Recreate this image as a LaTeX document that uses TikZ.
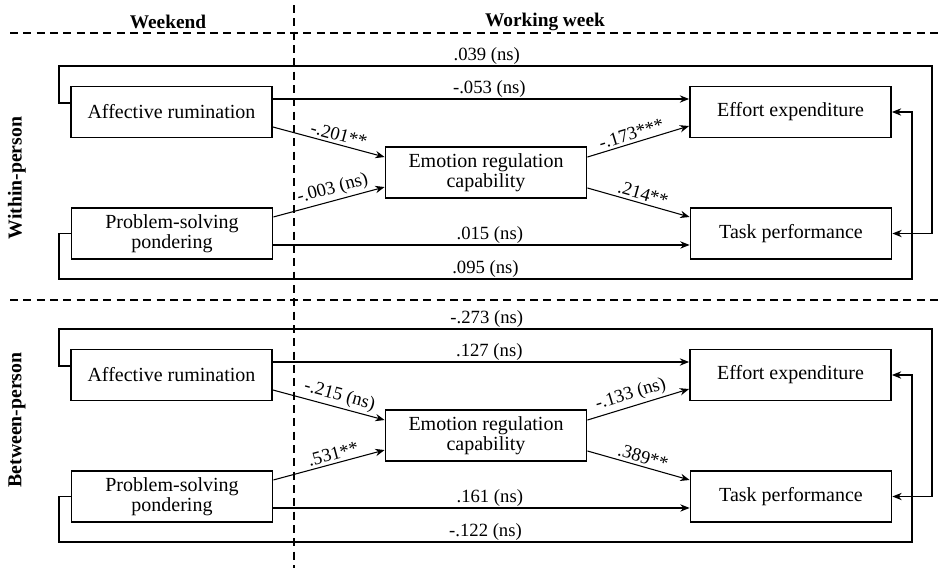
\documentclass[tikz,border=0pt]{standalone}
\usepackage{fontspec}
\setmainfont{Liberation Serif}
\usetikzlibrary{arrows.meta, calc}

\begin{document}
\begin{tikzpicture}[x=0.75pt, y=-0.75pt, >={Stealth[length=7pt,width=5.5pt]},
  box/.style={draw, line width=1.1pt, minimum width=151pt, minimum height=38pt,
    align=center, inner sep=2pt, font=\fontsize{15}{15}\selectfont},
  lbl/.style={inner sep=1pt, font=\fontsize{14}{14}\selectfont},
  slbl/.style={lbl, above, sloped, inner sep=2pt},
  head/.style={font=\bfseries\fontsize{14.5}{14.5}\selectfont},
  side/.style={rotate=90, font=\bfseries\fontsize{14.8}{14.8}\selectfont},
  link/.style={line width=0.8pt},
  sep/.style={line width=0.8pt, dash pattern=on 6pt off 4pt}]
  \useasboundingbox (0,0) rectangle (950,568);

  % headers and separators
  \node[head] (weekend) at (168,22) {Weekend};
  \node[head] (workweek) at (545,22) {Working week};
  \draw[sep] (10,33) -- (942,33);
  \draw[sep] (10,300) -- (942,300);
  \draw[sep] (294,5) -- (294,568);

  % within-person
  \node[side] (within) at (17,178) {Within-person};
  \node[box] (war) at (171.5,112) {Affective rumination};
  \node[box] (wpsp) at (172,233.5) {Problem-solving\\pondering};
  \node[box] (werc) at (486,172.5) {Emotion regulation\\capability};
  \node[box] (wee) at (790.5,112) {Effort expenditure};
  \node[box] (wtp) at (791,233.5) {Task performance};
  \coordinate (wtl) at (59,66);
  \coordinate (wtr) at (932,66);
  \coordinate (wbl) at (59,279);
  \coordinate (wbr) at (912,279);
  \draw[link,->] ([yshift=6.75pt]war.west) -| (wtl) -- node[lbl,above,pos=0.49] {.039 (ns)} (wtr) |- (wtp.east);
  \draw[link,->] (wpsp.west) -| (wbl) -- node[lbl,above,pos=0.5] {.095 (ns)} (wbr) |- (wee.east);
  \draw[link,->] ([yshift=9.75pt]war.east) -- node[lbl,above,pos=0.52] {-.053 (ns)} ([yshift=9.75pt]wee.west);
  \draw[link,->] ([yshift=-11.25pt]war.east) -- node[slbl,pos=0.57] {-.201**} ([yshift=11.6pt]werc.west);
  \draw[link,->] ([yshift=12.4pt]wpsp.east) -- node[slbl,pos=0.56] {-.003 (ns)} ([yshift=-10.9pt]werc.west);
  \draw[link,->] ([yshift=11.6pt]werc.east) -- node[slbl,pos=0.46] {-.173***} ([yshift=-10.5pt]wee.west);
  \draw[link,->] ([yshift=-11.6pt]werc.east) -- node[slbl,pos=0.52] {.214**} ([yshift=12.4pt]wtp.west);
  \draw[link,->] ([yshift=-8.6pt]wpsp.east) -- node[lbl,above,pos=0.52] {.015 (ns)} ([yshift=-8.6pt]wtp.west);

  % between-person
  \node[side] (between) at (17,420) {Between-person};
  \begin{scope}[shift={(0,263)}]
  \node[box] (bar) at (171.5,112) {Affective rumination};
  \node[box] (bpsp) at (172,233.5) {Problem-solving\\pondering};
  \node[box] (berc) at (486,172.5) {Emotion regulation\\capability};
  \node[box] (bee) at (790.5,112) {Effort expenditure};
  \node[box] (btp) at (791,233.5) {Task performance};
  \coordinate (btl) at (59,66);
  \coordinate (btr) at (932,66);
  \coordinate (bbl) at (59,279);
  \coordinate (bbr) at (912,279);
  \draw[link,->] ([yshift=6.75pt]bar.west) -| (btl) -- node[lbl,above,pos=0.49] {-.273 (ns)} (btr) |- (btp.east);
  \draw[link,->] (bpsp.west) -| (bbl) -- node[lbl,above,pos=0.5] {-.122 (ns)} (bbr) |- (bee.east);
  \draw[link,->] ([yshift=9.75pt]bar.east) -- node[lbl,above,pos=0.52] {.127 (ns)} ([yshift=9.75pt]bee.west);
  \draw[link,->] ([yshift=-11.25pt]bar.east) -- node[slbl,pos=0.57] {-.215 (ns)} ([yshift=11.6pt]berc.west);
  \draw[link,->] ([yshift=12.4pt]bpsp.east) -- node[slbl,pos=0.56] {.531**} ([yshift=-10.9pt]berc.west);
  \draw[link,->] ([yshift=11.6pt]berc.east) -- node[slbl,pos=0.46] {-.133 (ns)} ([yshift=-10.5pt]bee.west);
  \draw[link,->] ([yshift=-11.6pt]berc.east) -- node[slbl,pos=0.52] {.389**} ([yshift=12.4pt]btp.west);
  \draw[link,->] ([yshift=-8.6pt]bpsp.east) -- node[lbl,above,pos=0.52] {.161 (ns)} ([yshift=-8.6pt]btp.west);
  \end{scope}
\end{tikzpicture}
\end{document}
